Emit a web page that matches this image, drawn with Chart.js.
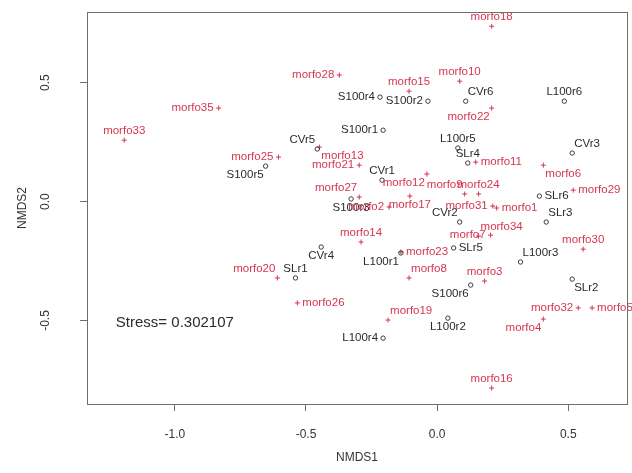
<!DOCTYPE html>
<html>
<head>
<meta charset="utf-8">
<script src="https://cdn.jsdelivr.net/npm/chart.js@4.4.1/dist/chart.umd.min.js"></script>
<style>
  html, body { margin: 0; padding: 0; background: #fff; }
  #wrap { width: 632px; height: 473px; }
</style>
</head>
<body>
<div id="wrap"><canvas id="nmds" width="632" height="473"></canvas></div>
<script>
// ── Data: NMDS scores ─────────────────────────────────────────────────────
const siteNames = [
  "S100r4", "S100r2", "CVr6", "L100r6", "S100r1", "L100r5", "CVr5", "SLr4",
  "CVr3", "S100r5", "CVr1", "SLr6", "S100r3", "CVr2", "SLr3", "CVr4",
  "L100r1", "SLr5", "L100r3", "SLr1", "SLr2", "S100r6", "L100r2", "L100r4"
];
const siteX = [
  -0.218, -0.035, 0.109, 0.485, -0.206, 0.079, -0.457, 0.117,
  0.515, -0.654, -0.210, 0.390, -0.328, 0.086, 0.416, -0.442,
  -0.138, 0.063, 0.318, -0.540, 0.515, 0.128, 0.041, -0.206
];
const siteY = [
  0.439, 0.422, 0.422, 0.422, 0.300, 0.225, 0.221, 0.162,
  0.204, 0.149, 0.090, 0.023, 0.011, -0.086, -0.086, -0.191,
  -0.216, -0.195, -0.254, -0.321, -0.326, -0.351, -0.490, -0.574
];
// where each label sits relative to its point
const siteLabelPos = [
  "w", "w", "ne", "n", "w", "n", "nw", "n",
  "ne", "sw", "n", "e", "s", "nw", "ne", "s",
  "sw", "e", "ne", "n", "se", "sw", "s", "w"
];

const speciesNames = [
  "morfo1", "morfo2", "morfo3", "morfo4", "morfo5", "morfo6", "morfo7",
  "morfo8", "morfo9", "morfo10", "morfo11", "morfo12", "morfo13", "morfo14",
  "morfo15", "morfo16", "morfo17", "morfo18", "morfo19", "morfo20", "morfo21",
  "morfo22", "morfo23", "morfo24", "morfo25", "morfo26", "morfo27", "morfo28",
  "morfo29", "morfo30", "morfo31", "morfo32", "morfo33", "morfo34", "morfo35"
];
const speciesX = [
  0.227, -0.183, 0.181, 0.405, 0.591, 0.405, 0.204,
  -0.107, 0.105, 0.086, 0.147, -0.039, -0.449, -0.290,
  -0.107, 0.208, -0.104, 0.208, -0.187, -0.609, -0.297,
  0.208, -0.138, 0.158, -0.605, -0.533, -0.297, -0.373,
  0.519, 0.557, 0.212, 0.538, -1.193, 0.158, -0.833
];
const speciesY = [
  -0.027, -0.023, -0.334, -0.494, -0.447, 0.153, -0.141,
  -0.321, 0.032, 0.506, 0.166, 0.116, 0.229, -0.170,
  0.464, -0.784, 0.023, 0.737, -0.498, -0.321, 0.153,
  0.393, -0.212, 0.032, 0.187, -0.426, 0.019, 0.532,
  0.048, -0.200, -0.019, -0.447, 0.258, -0.145, 0.393
];
const speciesLabelPos = [
  "e", "w", "n", "sw", "e", "se", "w",
  "ne", "nw", "n", "e", "sw", "se", "n",
  "n", "n", "s", "n", "ne", "nw", "w",
  "sw", "e", "n", "w", "e", "nw", "w",
  "e", "n", "w", "w", "n", "ne", "w"
];

const xTicks = [-1.0, -0.5, 0.0, 0.5];
const yTicks = [-0.5, 0.0, 0.5];
const stressText = "Stress= 0.302107";
const stressAt = { x: -1.0, y: -0.51 };

// ── Colours / fonts ───────────────────────────────────────────────────────
const SITE_COL = "#2b2b2b";
const SPEC_COL = "#d6354f";
const AXIS_COL = "#6e6e6e";
const FONT = "Liberation Sans, Arial, sans-serif";

// ── Plugins: R-style box, point labels, stress note ───────────────────────
const boxPlugin = {
  id: "box",
  afterDraw(chart) {
    const { ctx, chartArea: a } = chart;
    ctx.save();
    ctx.strokeStyle = AXIS_COL;
    ctx.lineWidth = 1;
    ctx.strokeRect(a.left + 0.5, a.top + 0.5, a.right - a.left, a.bottom - a.top);
    ctx.restore();
  }
};

function placeLabel(ctx, text, px, py, pos) {
  const d = 5;
  let x = px, y = py;
  ctx.textAlign = "center";
  ctx.textBaseline = "middle";
  if (pos.includes("n")) y = py - 9;
  if (pos.includes("s")) y = py + 9;
  if (pos.includes("e")) { ctx.textAlign = "left"; x = px + (pos.length > 1 ? 2 : d); }
  if (pos.includes("w")) { ctx.textAlign = "right"; x = px - (pos.length > 1 ? 2 : d); }
  ctx.fillText(text, x, y);
}

const labelPlugin = {
  id: "pointLabels",
  afterDatasetsDraw(chart) {
    const { ctx, scales: { x, y } } = chart;
    ctx.save();
    ctx.font = "11.5px " + FONT;
    ctx.fillStyle = SITE_COL;
    siteNames.forEach((n, i) =>
      placeLabel(ctx, n, x.getPixelForValue(siteX[i]), y.getPixelForValue(siteY[i]), siteLabelPos[i]));
    ctx.fillStyle = SPEC_COL;
    speciesNames.forEach((n, i) =>
      placeLabel(ctx, n, x.getPixelForValue(speciesX[i]), y.getPixelForValue(speciesY[i]), speciesLabelPos[i]));
    ctx.font = "15px " + FONT;
    ctx.fillStyle = SITE_COL;
    ctx.textAlign = "center";
    ctx.textBaseline = "middle";
    ctx.fillText(stressText, x.getPixelForValue(stressAt.x), y.getPixelForValue(stressAt.y));
    ctx.restore();
  }
};

// ── Chart ─────────────────────────────────────────────────────────────────
new Chart(document.getElementById("nmds"), {
  type: "scatter",
  data: {
    datasets: [
      {
        label: "sites",
        data: siteX.map((v, i) => ({ x: v, y: siteY[i] })),
        pointStyle: "circle",
        pointRadius: 2.2,
        borderColor: SITE_COL,
        backgroundColor: "rgba(0,0,0,0)",
        borderWidth: 0.9,
      },
      {
        label: "species",
        data: speciesX.map((v, i) => ({ x: v, y: speciesY[i] })),
        pointStyle: "cross",
        pointRadius: 2.5,
        borderColor: SPEC_COL,
        borderWidth: 1,
      },
    ],
  },
  options: {
    responsive: false,
    animation: false,
    events: [],
    layout: { padding: { top: 12, right: 1, left: 0, bottom: 0 } },
    plugins: { legend: { display: false }, tooltip: { enabled: false } },
    scales: {
      x: {
        type: "linear",
        min: -1.335, max: 0.724,
        afterBuildTicks: s => { s.ticks = xTicks.map(v => ({ value: v })); },
        afterFit: s => { s.height = 69; s.paddingLeft = 0; s.paddingRight = 0; },
        grid: { drawOnChartArea: false, drawTicks: true, tickLength: 7, color: AXIS_COL },
        border: { display: true, color: AXIS_COL },
        ticks: { color: "#333", padding: 16, font: { size: 12, family: FONT }, callback: v => v.toFixed(1) },
        title: { display: true, text: "NMDS1", color: "#333", font: { size: 12, family: FONT }, padding: { bottom: 8 } },
      },
      y: {
        type: "linear",
        min: -0.851, max: 0.797,
        afterBuildTicks: s => { s.ticks = yTicks.map(v => ({ value: v })); },
        afterFit: s => { s.width = 87; s.paddingTop = 0; s.paddingBottom = 0; },
        grid: { drawOnChartArea: false, drawTicks: true, tickLength: 7, color: AXIS_COL },
        border: { display: true, color: AXIS_COL },
        ticks: {
          color: "#333", padding: 24, minRotation: 90, maxRotation: 90, crossAlign: "center",
          font: { size: 12, family: FONT }, callback: v => v.toFixed(1),
        },
        title: { display: true, text: "NMDS2", color: "#333", font: { size: 12, family: FONT }, padding: { top: 15 } },
      },
    },
  },
  plugins: [boxPlugin, labelPlugin],
});
</script>
</body>
</html>
